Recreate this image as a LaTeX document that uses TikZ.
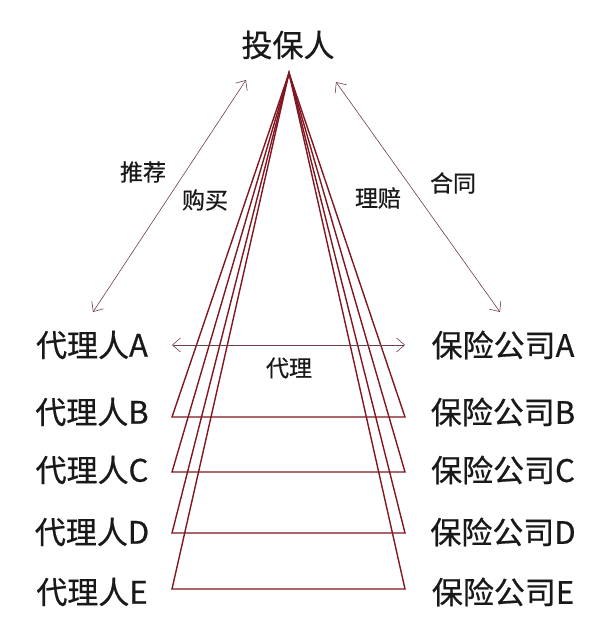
\documentclass[tikz,border=0pt]{standalone}
\usepackage{fontspec}
\setmainfont{Noto Sans CJK SC}[FakeBold=0.6]
\usetikzlibrary{arrows.meta}
\definecolor{linered}{RGB}{128,22,32}
\definecolor{arrowgray}{RGB}{112,62,70}
\definecolor{textblack}{RGB}{25,25,25}
\begin{document}
\begin{tikzpicture}[x=1pt,y=-1pt,
  bigtext/.style={font=\fontsize{31}{33}\selectfont, text=textblack, inner sep=0pt},
  smalltext/.style={font=\fontsize{23}{25}\selectfont, text=textblack, inner sep=0pt},
  tri/.style={draw=linered, line width=1.4pt, line join=miter},
  both/.style={draw=arrowgray, line width=0.6pt,
    {Straight Barb[length=8pt,width=14pt]}-{Straight Barb[length=8pt,width=14pt]}}]
  \useasboundingbox (0,0) rectangle (600,621);
  % top
  \node[bigtext] (client) at (288,45) {投保人};
  \coordinate (apex) at (289,73);
  % both columns
  \foreach \n/\y in {A/345,B/412,C/470,D/532,E/592} {
    \node[bigtext] (agent\n) at (92,\y) {代理人\n};
    \node[bigtext] (ins\n) at (503,\y) {保险公司\n};
  }
  % triangles
  \foreach \n/\y in {B/417,C/472,D/533,E/589} {
    \coordinate (left\n) at (172,\y);
    \coordinate (right\n) at (405,\y);
    \draw[tri] (apex) -- (left\n) -- (right\n) -- cycle;
  }
  % double arrows
  \coordinate (agtop) at (246,80);
  \coordinate (agbot) at (93,312);
  \coordinate (instop) at (336,82);
  \coordinate (insbot) at (500,312);
  \coordinate (midl) at (172,345);
  \coordinate (midr) at (405,345);
  \draw[both] (agbot) -- (agtop);
  \draw[both] (instop) -- (insbot);
  \draw[both] (midl) -- (midr);
  % labels
  \node[smalltext] (recommend) at (143,172) {推荐};
  \node[smalltext] (buy) at (205,200) {购买};
  \node[smalltext] (claim) at (378,198) {理赔};
  \node[smalltext] (contract) at (453,183) {合同};
  \node[smalltext] (agency) at (289,368) {代理};
\end{tikzpicture}
\end{document}
